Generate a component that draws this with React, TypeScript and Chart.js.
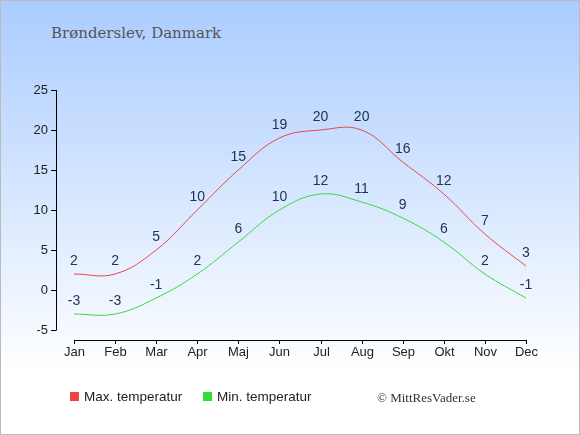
import { useEffect, useRef } from "react";
import Chart from "chart.js/auto";

const months = ["Jan", "Feb", "Mar", "Apr", "Maj", "Jun", "Jul", "Aug", "Sep", "Okt", "Nov", "Dec"];
const maxTemp = [2, 2, 5, 10, 15, 19, 20, 20, 16, 12, 7, 3];
const minTemp = [-3, -3, -1, 2, 6, 10, 12, 11, 9, 6, 2, -1];
const yTicks = [-5, 0, 5, 10, 15, 20, 25];

const RED = "#ee4444";
const GREEN = "#33dd33";

// axes drawn by hand so they sit apart from each other like the original
const axesPlugin = {
  id: "axes",
  afterDraw(chart: any) {
    const ctx = chart.ctx;
    const x = chart.scales.x;
    const y = chart.scales.y;
    const axisX = x.left - 18;
    const axisY = y.bottom + 10;
    ctx.save();
    ctx.strokeStyle = "#000";
    ctx.lineWidth = 1;
    ctx.fillStyle = "#222";
    ctx.font = "13px 'Liberation Sans', Arial, sans-serif";

    // y axis
    ctx.beginPath();
    ctx.moveTo(axisX + 0.5, y.getPixelForValue(25));
    ctx.lineTo(axisX + 0.5, y.getPixelForValue(-5));
    ctx.stroke();
    ctx.textAlign = "right";
    ctx.textBaseline = "middle";
    yTicks.forEach((t) => {
      const py = Math.round(y.getPixelForValue(t)) + 0.5;
      ctx.beginPath();
      ctx.moveTo(axisX - 5, py);
      ctx.lineTo(axisX + 0.5, py);
      ctx.stroke();
      ctx.fillText(String(t), axisX - 8, py);
    });

    // x axis
    ctx.beginPath();
    ctx.moveTo(x.getPixelForValue(0), axisY + 0.5);
    ctx.lineTo(x.getPixelForValue(months.length - 1), axisY + 0.5);
    ctx.stroke();
    ctx.textAlign = "center";
    ctx.textBaseline = "top";
    months.forEach((m, i) => {
      const px = Math.round(x.getPixelForValue(i)) + 0.5;
      ctx.beginPath();
      ctx.moveTo(px, axisY);
      ctx.lineTo(px, axisY + 4);
      ctx.stroke();
      ctx.fillText(m, px, axisY + 6);
    });

    // value labels above each point
    ctx.fillStyle = "#223355";
    ctx.font = "14px 'Liberation Sans', Arial, sans-serif";
    ctx.textBaseline = "middle";
    chart.data.datasets.forEach((ds: any, di: number) => {
      chart.getDatasetMeta(di).data.forEach((pt: any, i: number) => {
        ctx.fillText(String(ds.data[i]), pt.x, pt.y - 13);
      });
    });
    ctx.restore();
  },
};

export default function App() {
  const canvasRef = useRef<HTMLCanvasElement>(null);

  useEffect(() => {
    document.body.style.margin = "0";
    if (!canvasRef.current) return;

    const chart = new Chart(canvasRef.current, {
      type: "line",
      data: {
        labels: months,
        datasets: [
          {
            label: "Max. temperatur",
            data: maxTemp,
            borderColor: RED,
            borderWidth: 1,
            pointRadius: 0,
            tension: 0.4,
            fill: false,
          },
          {
            label: "Min. temperatur",
            data: minTemp,
            borderColor: GREEN,
            borderWidth: 1,
            pointRadius: 0,
            tension: 0.4,
            fill: false,
          },
        ],
      },
      options: {
        responsive: false,
        animation: false,
        clip: false as any,
        layout: { padding: { left: 74, right: 54, top: 90, bottom: 105 } },
        scales: {
          x: { display: false, offset: false },
          y: { display: false, min: -5, max: 25 },
        },
        plugins: {
          legend: { display: false },
          tooltip: { enabled: false },
        },
      },
      plugins: [axesPlugin],
    });

    return () => {
      chart.destroy();
    };
  }, []);

  return (
    <div
      style={{
        position: "relative",
        width: 580,
        height: 435,
        boxSizing: "border-box",
        border: "1px solid #bbb",
        background: "linear-gradient(to bottom, #aaccff 0px, #ffffff 370px)",
        overflow: "hidden",
      }}
    >
      <div
        style={{
          position: "absolute",
          left: 50,
          top: 23,
          fontFamily: "'DejaVu Serif', Georgia, serif",
          fontSize: 15,
          color: "#555",
        }}
      >
        Brønderslev, Danmark
      </div>
      <canvas
        ref={canvasRef}
        width={580}
        height={435}
        style={{ position: "absolute", left: -1, top: -1 }}
      ></canvas>
      <div
        style={{
          position: "absolute",
          top: 388,
          left: 0,
          width: 580,
          fontFamily: "'Liberation Sans', Arial, sans-serif",
          fontSize: 13.5,
          color: "#222",
        }}
      >
        <span style={{ position: "absolute", left: 69, top: 3, width: 9, height: 9, background: RED }}></span>
        <span style={{ position: "absolute", left: 83, top: 0 }}>Max. temperatur</span>
        <span style={{ position: "absolute", left: 202, top: 3, width: 9, height: 9, background: GREEN }}></span>
        <span style={{ position: "absolute", left: 216, top: 0 }}>Min. temperatur</span>
        <span
          style={{
            position: "absolute",
            left: 376,
            top: 1,
            fontFamily: "'Liberation Serif', 'Times New Roman', serif",
            fontSize: 13,
            color: "#333",
          }}
        >
          © MittResVader.se
        </span>
      </div>
    </div>
  );
}
